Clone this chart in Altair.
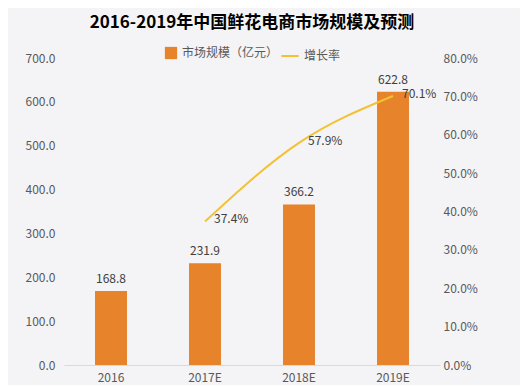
import altair as alt
import pandas as pd

years = ["2016", "2017E", "2018E", "2019E"]
market = [168.8, 231.9, 366.2, 622.8]
rate_years = ["2017E", "2018E", "2019E"]
rates = [0.374, 0.579, 0.701]
left_ticks = [0, 100, 200, 300, 400, 500, 600, 700]
right_ticks = [0, 0.1, 0.2, 0.3, 0.4, 0.5, 0.6, 0.7, 0.8]

bar_df = pd.DataFrame({"year": years, "value": market, "series": ["市场规模（亿元）"] * 4})
line_df = pd.DataFrame({"year": rate_years, "rate": rates, "series": ["增长率"] * 3})

FONT = "Noto Sans CJK SC"
ORANGE = "#E6832B"
YELLOW = "#F3C234"
LABEL = "#595959"

x = alt.X(
    "year:N", sort=years,
    scale=alt.Scale(domain=years, paddingInner=0.66, paddingOuter=0.33),
    axis=alt.Axis(title=None, labelAngle=0, ticks=False, domainColor="#d9d9d9",
                  labelColor=LABEL, labelFontSize=12, labelPadding=7, grid=False, labelFont=FONT),
)

yl = alt.Y("value:Q", scale=alt.Scale(domain=[0, 700]),
           axis=alt.Axis(title=None, values=left_ticks, format=".1f", ticks=False, domain=False,
                         grid=False, labelPadding=9, labelColor=LABEL, labelFontSize=12, labelFont=FONT))

bars = alt.Chart(bar_df).mark_bar().encode(
    x=x, y=yl,
    fill=alt.Fill("series:N", scale=alt.Scale(range=[ORANGE]),
                  legend=alt.Legend(title=None, orient="none", legendX=100, legendY=-12,
                                    symbolType="square", symbolSize=150, labelFontSize=12,
                                    labelColor=LABEL, labelFont=FONT)),
)
bar_text = alt.Chart(bar_df).mark_text(baseline="bottom", dy=-5, fontSize=12, color="#404040", font=FONT).encode(
    x=x, y=yl, text=alt.Text("value:Q", format=".1f"))

yr = alt.Y("rate:Q", scale=alt.Scale(domain=[0, 0.8]),
           axis=alt.Axis(title=None, orient="right", values=right_ticks, format=".1%", ticks=False,
                         domain=False, grid=False, labelPadding=3, labelColor=LABEL, labelFontSize=12,
                         labelFont=FONT))

line = alt.Chart(line_df).mark_line(interpolate="monotone", strokeWidth=2).encode(
    x=x, y=yr,
    stroke=alt.Stroke("series:N", scale=alt.Scale(range=[YELLOW]),
                      legend=alt.Legend(title=None, orient="none", legendX=216, legendY=-12,
                                        symbolType="stroke", symbolStrokeWidth=2, symbolSize=300,
                                        labelFontSize=12, labelColor=LABEL, labelFont=FONT)),
)
line_text = alt.Chart(line_df).mark_text(align="left", baseline="middle", dx=9, dy=-2, fontSize=12,
                                         color="#404040", font=FONT).encode(
    x=x, y=yr, text=alt.Text("rate:Q", format=".1%"))

left = alt.layer(bars, bar_text)
right = alt.layer(line, line_text)

chart = alt.layer(left, right).resolve_scale(y="independent", fill="independent", stroke="independent").properties(
    width=376, height=307,
    title=alt.TitleParams("2016-2019年中国鲜花电商市场规模及预测", fontSize=17, fontWeight="bold",
                          font=FONT, color="#000000", anchor="middle", offset=14),
    autosize=alt.AutoSizeParams(type="none"),
    padding={"left": 56, "top": 50, "right": 80, "bottom": 20},
    background="#F4F3F5",
).configure_view(strokeWidth=0)

chart.save("out.html", embed_options={"renderer": "svg", "actions": False})
